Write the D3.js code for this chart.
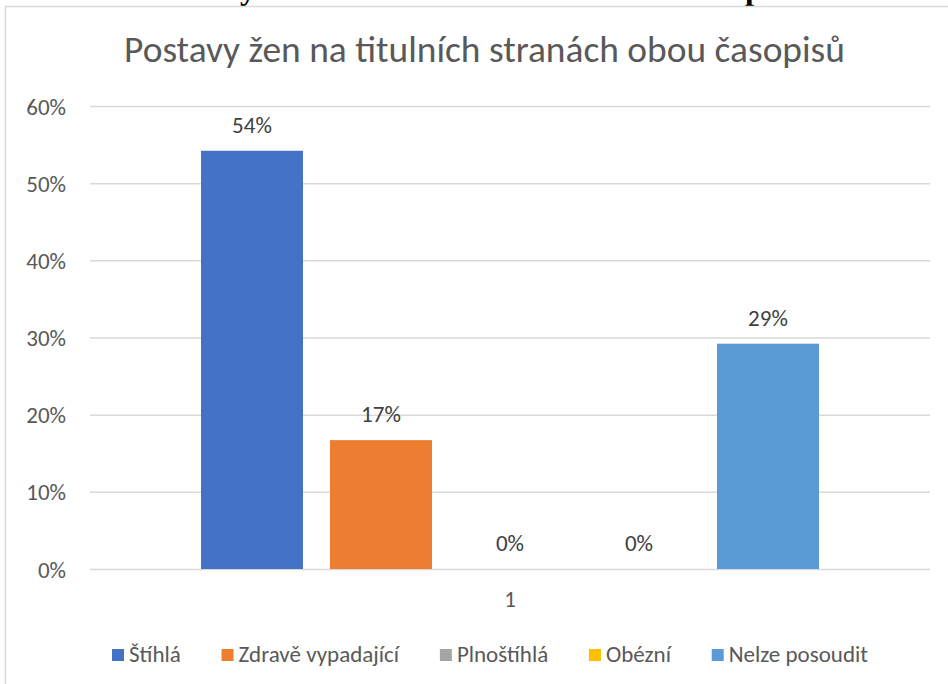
<!DOCTYPE html>
<html>
<head>
<meta charset="utf-8">
<script src="https://cdn.jsdelivr.net/npm/d3@7"></script>
<style>
  html, body { margin: 0; padding: 0; background: #fff; }
  svg { display: block; }
</style>
</head>
<body>
<svg id="chart" width="948" height="684"></svg>
<script>
// ---- data ----
const categories = ["1"];
const seriesNames = ["Štíhlá", "Zdravě vypadající", "Plnoštíhlá", "Obézní", "Nelze posoudit"];
const seriesValues = [0.542, 0.167, 0, 0, 0.292];
const seriesColors = ["#4472C4", "#ED7D31", "#A5A5A5", "#FFC000", "#5B9BD5"];
const yTicks = [0, 0.1, 0.2, 0.3, 0.4, 0.5, 0.6];
const chartTitle = "Postavy žen na titulních stranách obou časopisů";
const captionText = "Graf 10: Postavy žen na titulních stranách obou časopisů";

// ---- layout ----
const W = 948, H = 684;
const FONT = "Carlito, Calibri, Lato, 'Open Sans', sans-serif";
const FS = 23;
const plot = { left: 90, right: 930, top: 106, bottom: 569 };

const svg = d3.select("#chart");

// caption (clipped at the top of the picture, as in the reference)
svg.append("text")
  .attr("x", 25).attr("y", -1)
  .attr("font-family", "'Liberation Serif', 'Times New Roman', serif")
  .attr("font-weight", "bold")
  .attr("font-size", 32)
  .attr("fill", "#000")
  .text(captionText);

// chart border
svg.append("rect")
  .attr("x", 5.5).attr("y", 6.5)
  .attr("width", W + 20).attr("height", H + 20)
  .attr("fill", "#fff")
  .attr("stroke", "#d9d9d9").attr("stroke-width", 1.5);

// scales
const y = d3.scaleLinear().domain([0, 0.6]).range([plot.bottom, plot.top]);
const x0 = d3.scaleBand().domain(categories).range([plot.left, plot.right]).padding(0);
const x1 = d3.scaleBand().domain(seriesNames)
  .range([0, x0.bandwidth()])
  .paddingInner(0.2093).paddingOuter(0.8605);

// gridlines via axis
const gridAxis = d3.axisLeft(y).tickValues(yTicks)
  .tickSize(-(plot.right - plot.left)).tickFormat("");
const grid = svg.append("g").attr("transform", `translate(${plot.left},0)`).call(gridAxis);
grid.select(".domain").remove();
grid.selectAll(".tick line").attr("stroke", "#d9d9d9").attr("stroke-width", 1.5);

// y tick labels
const yAxis = d3.axisLeft(y).tickValues(yTicks).tickSize(0).tickPadding(0)
  .tickFormat(d3.format(".0%"));
const ya = svg.append("g").attr("transform", `translate(66,0)`).call(yAxis);
ya.select(".domain").remove();
ya.selectAll(".tick text")
  .attr("font-family", FONT).attr("font-size", FS).attr("fill", "#595959")
  .attr("dy", "0.35em");

// bars
const groups = svg.append("g").selectAll("g").data(categories).join("g")
  .attr("transform", d => `translate(${x0(d)},0)`);
const barData = seriesNames.map((s, i) => ({ s, v: seriesValues[i], c: seriesColors[i] }));
groups.selectAll("rect").data(barData).join("rect")
  .attr("x", d => x1(d.s))
  .attr("width", x1.bandwidth())
  .attr("y", d => y(d.v))
  .attr("height", d => y(0) - y(d.v))
  .attr("fill", d => d.c);

// data labels
groups.selectAll("text.lbl").data(barData).join("text")
  .attr("class", "lbl")
  .attr("x", d => x1(d.s) + x1.bandwidth() / 2)
  .attr("y", d => y(d.v) - 18)
  .attr("text-anchor", "middle")
  .attr("font-family", FONT).attr("font-size", FS).attr("fill", "#404040")
  .text(d => d3.format(".0%")(d.v));

// category axis label
const xAxis = d3.axisBottom(x0).tickSize(0).tickPadding(0);
const xa = svg.append("g").attr("transform", `translate(0,${plot.bottom})`).call(xAxis);
xa.select(".domain").remove();
xa.selectAll(".tick text")
  .attr("font-family", FONT).attr("font-size", FS).attr("fill", "#595959")
  .attr("dy", 0).attr("y", 38);

// title (fitted to measured width)
const title = svg.append("text")
  .attr("x", 484.5).attr("y", 62)
  .attr("text-anchor", "middle")
  .attr("font-family", FONT).attr("font-size", 31).attr("fill", "#595959")
  .text(chartTitle);
const tw = title.node().getComputedTextLength();
title.attr("font-size", 31 * 721 / tw);

// legend
const legend = svg.append("g");
const items = legend.selectAll("g").data(barData).join("g");
items.append("rect").attr("width", 12).attr("height", 12).attr("y", -13).attr("fill", d => d.c);
items.append("text").attr("x", 17).attr("y", 0)
  .attr("font-family", FONT).attr("font-size", FS).attr("fill", "#595959")
  .text(d => d.s);
let widths = [];
items.each(function () { widths.push(this.querySelector("text").getComputedTextLength() + 17); });
const targetSpan = 868 - 112;
const gap = (targetSpan - d3.sum(widths)) / (widths.length - 1);
let cx = 112;
items.each(function (d, i) {
  d3.select(this).attr("transform", `translate(${cx},662)`);
  cx += widths[i] + gap;
});
</script>
</body>
</html>
